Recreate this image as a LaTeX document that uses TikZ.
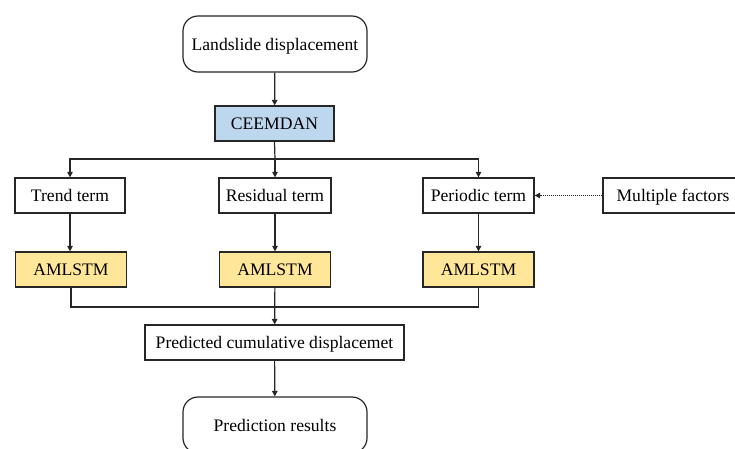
\documentclass[tikz,border=0pt]{standalone}
\usepackage{fontspec}
\setmainfont{Liberation Serif}
\usetikzlibrary{arrows.meta,positioning}
\definecolor{ceemblue}{HTML}{BDD7EE}
\definecolor{lstmyellow}{HTML}{FFE699}
\definecolor{linegray}{HTML}{262626}
\begin{document}
\begin{tikzpicture}[x=1pt,y=-1pt,
  every node/.style={font=\fontsize{17.6}{20}\selectfont, text=black, inner sep=0pt,
    text height=14pt, text depth=2pt},
  termbox/.style={draw=linegray, line width=1.2pt, rectangle, minimum height=35pt},
  endbox/.style={draw=linegray, line width=1.2pt, rectangle, rounded corners=15pt, minimum height=56pt, minimum width=184pt},
  blockbox/.style={termbox, fill=ceemblue},
  modelbox/.style={termbox, fill=lstmyellow, minimum width=111pt},
  link/.style={draw=linegray, line width=1.2pt},
  arr/.style={link, -{Triangle[length=5.5pt,width=5.5pt]}},
  dotarr/.style={draw=linegray, line width=1pt, densely dotted, -{Triangle[length=5.5pt,width=5.5pt]}}
]
\useasboundingbox (0,0) rectangle (735,448);
\clip (0,0) rectangle (735,448);

% start and end of the flow
\node[endbox] (land) at (275,44) {Landslide displacement};
\node[blockbox, minimum width=119pt] (ceem) at (274.5,123.5) {CEEMDAN};

% decomposed components
\node[termbox, minimum width=110pt] (trend) at (70,195.5) {Trend term};
\node[termbox, minimum width=112pt] (resid) at (275,195.5) {Residual term};
\node[termbox, minimum width=111pt] (period) at (478.5,195.5) {Periodic term};
\node[termbox, minimum width=140pt] (factors) at (673,195.5) {Multiple factors};

% one model per component
\node[modelbox] (m1) at (71,269.5) {AMLSTM};
\node[modelbox] (m2) at (275,269.5) {AMLSTM};
\node[modelbox] (m3) at (478.5,269.5) {AMLSTM};

\node[termbox, minimum width=259pt] (pred) at (274.5,342.5) {Predicted cumulative displacemet};
\node[endbox] (res) at (275,425) {Prediction results};

\coordinate (split) at (275,159);
\coordinate (merge) at (275,307);

% arrows
\draw[arr] (land) -- (ceem);
\draw[link] (ceem.south) -- (split);
\draw[arr] (split) -- (resid);
\draw[arr] (split) -| (trend.north);
\draw[arr] (split) -| (period.north);
\draw[dotarr] (factors) -- (period);

\draw[arr] (trend) -- (m1.north -| trend);
\draw[arr] (resid) -- (m2);
\draw[arr] (period) -- (m3);

\draw[link] (m1.south) |- (merge);
\draw[link] (m3.south) |- (merge);
\draw[arr] (m2) -- (pred);
\draw[arr] (pred) -- (res);
\end{tikzpicture}
\end{document}
